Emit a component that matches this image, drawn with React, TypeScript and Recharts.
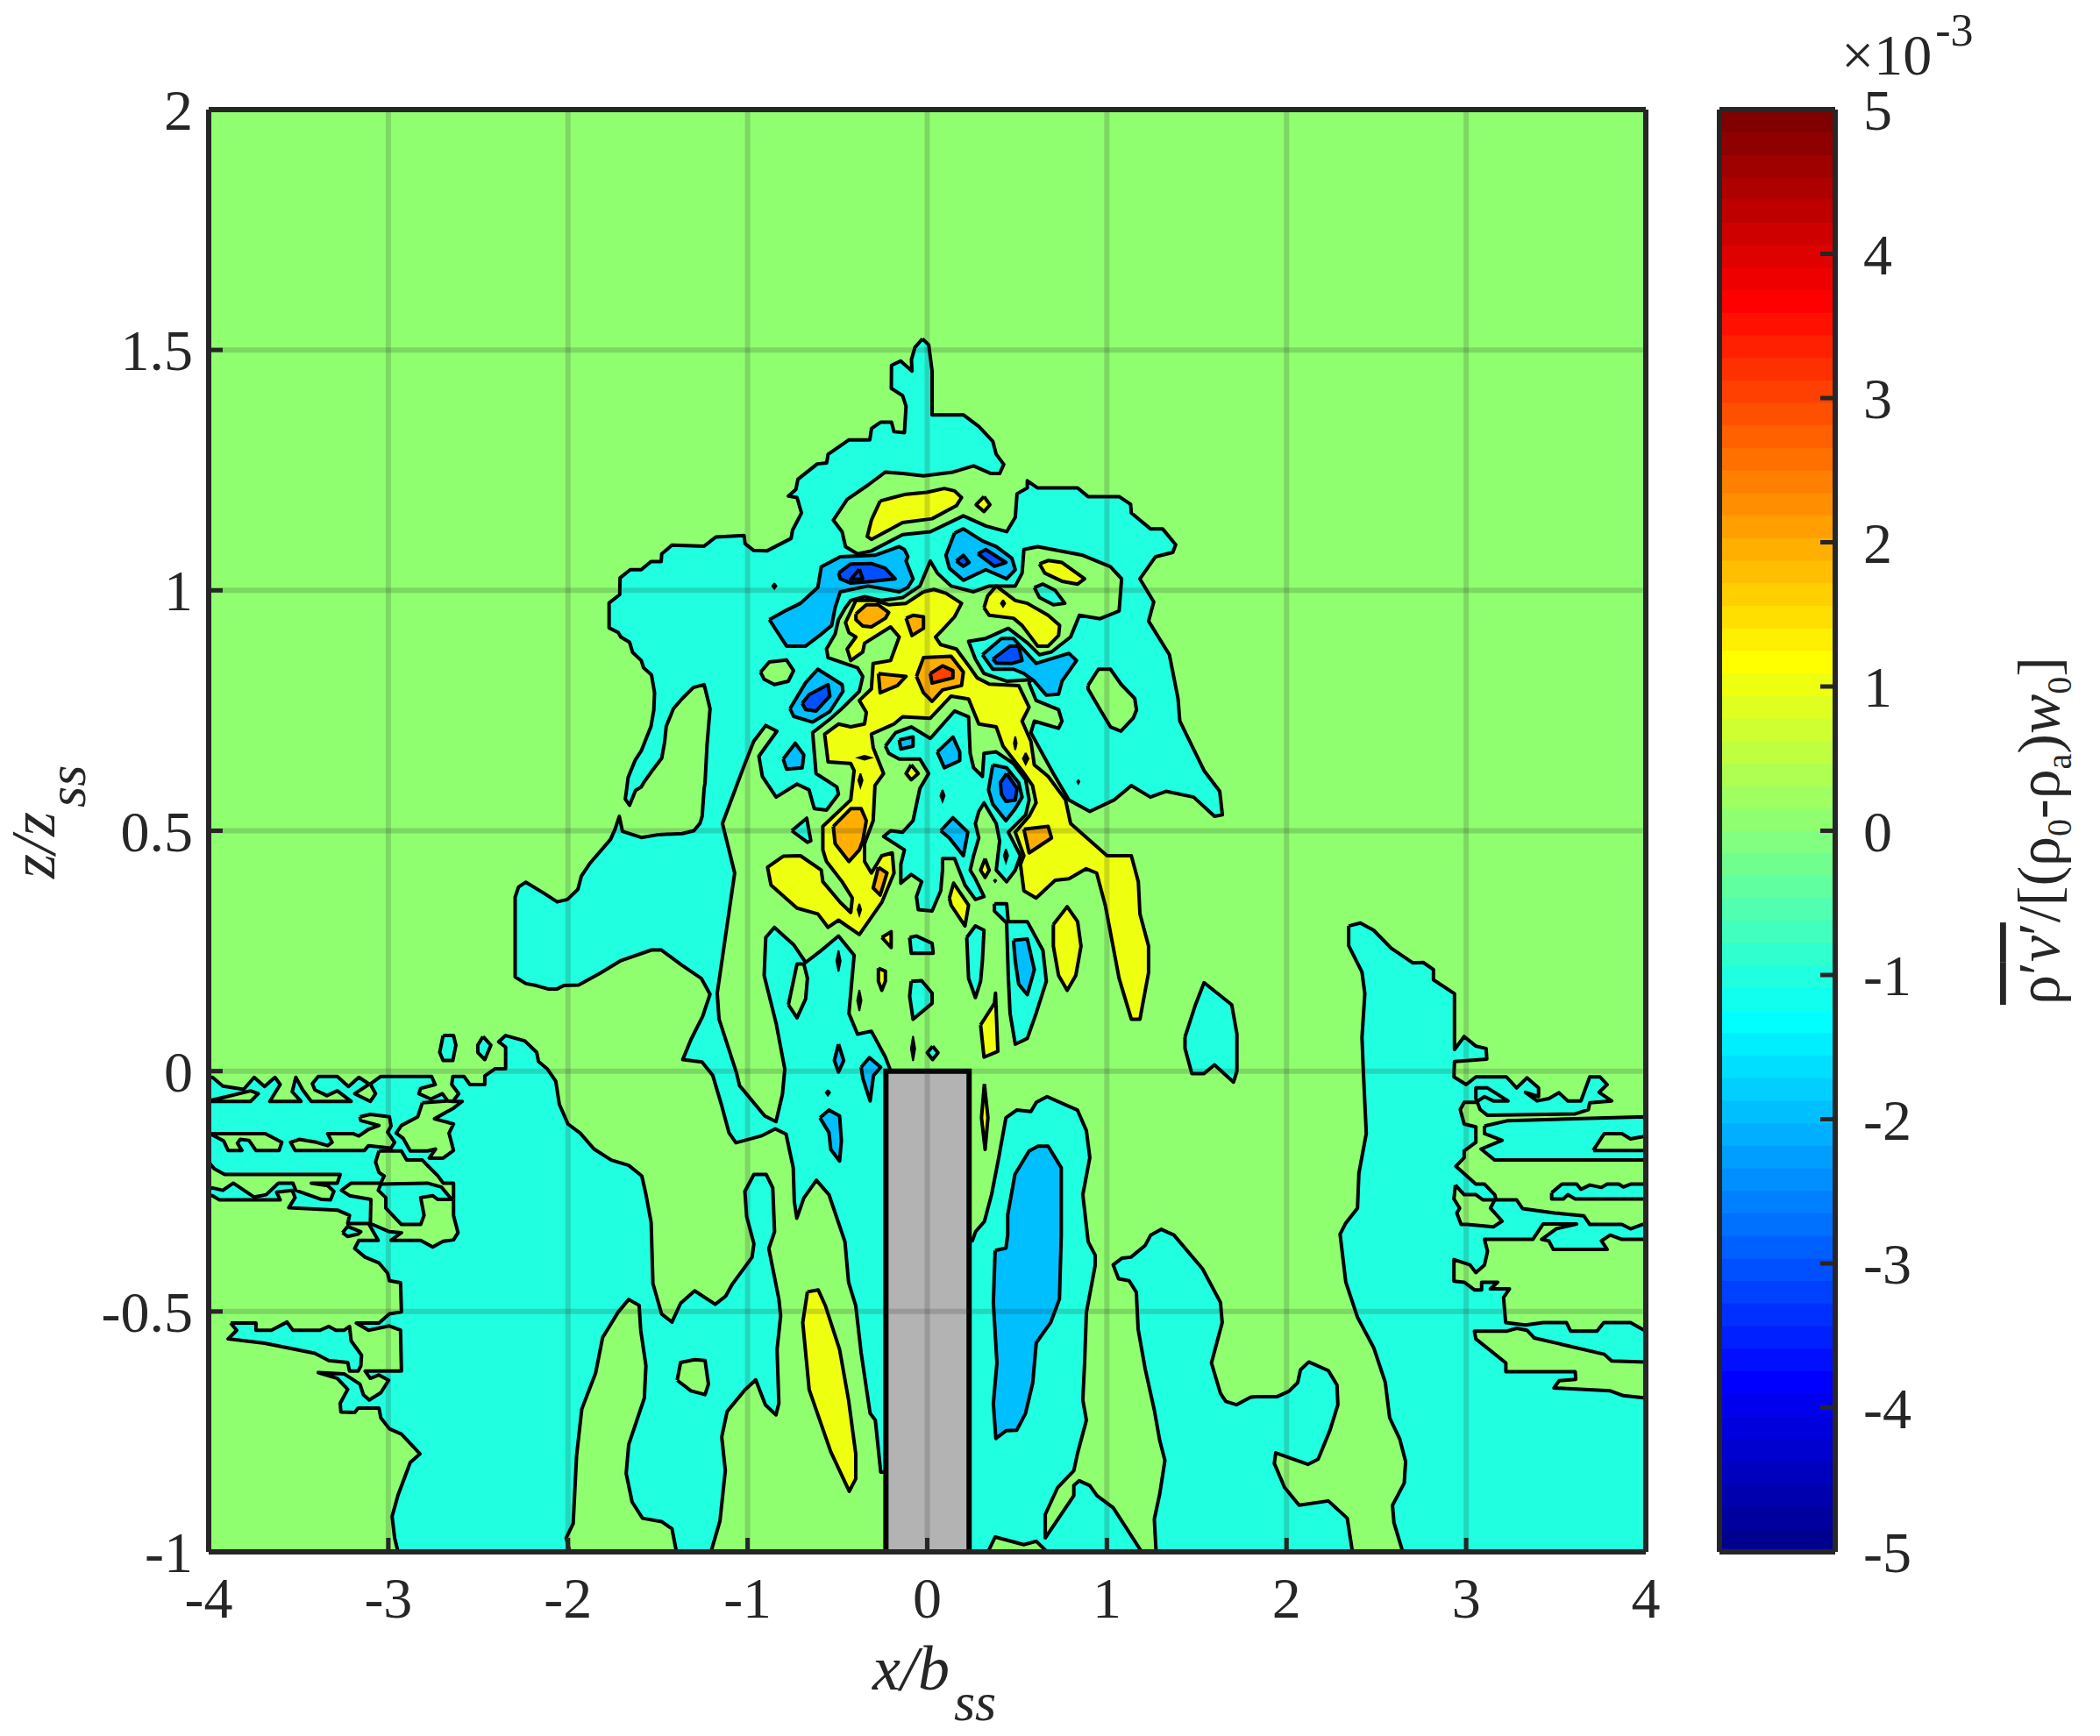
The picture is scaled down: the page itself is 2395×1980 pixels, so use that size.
import React from 'react';
import { Bar, BarChart, ReferenceLine, Scatter, ScatterChart, XAxis, YAxis } from 'recharts';

type Pt = [number, number];

const xTicks = [-4, -3, -2, -1, 0, 1, 2, 3, 4];
const yTicks = [-1, -0.5, 0, 0.5, 1, 1.5, 2];
const barTicks = [-5, -4, -3, -2, -1, 0, 1, 2, 3, 4, 5];

// jet(64), bottom to top of the colorbar
const jetColors = [
  '#00008F', '#00009F', '#0000AF', '#0000BF', '#0000CF', '#0000DF', '#0000EF', '#0000FF',
  '#0010FF', '#0020FF', '#0030FF', '#0040FF', '#0050FF', '#0060FF', '#0070FF', '#0080FF',
  '#008FFF', '#009FFF', '#00AFFF', '#00BFFF', '#00CFFF', '#00DFFF', '#00EFFF', '#00FFFF',
  '#10FFEF', '#20FFDF', '#30FFCF', '#40FFBF', '#50FFAF', '#60FF9F', '#70FF8F', '#80FF80',
  '#8FFF70', '#9FFF60', '#AFFF50', '#BFFF40', '#CFFF30', '#DFFF20', '#EFFF10', '#FFFF00',
  '#FFEF00', '#FFDF00', '#FFCF00', '#FFBF00', '#FFAF00', '#FF9F00', '#FF8F00', '#FF8000',
  '#FF7000', '#FF6000', '#FF5000', '#FF4000', '#FF3000', '#FF2000', '#FF1000', '#FF0000',
  '#EF0000', '#DF0000', '#CF0000', '#BF0000', '#AF0000', '#9F0000', '#8F0000', '#800000',
];

const GREEN = '#8FFF70';
const CYAN = '#20FFDF';
const BLUE1 = '#00BFFF';
const BLUE2 = '#0050FF';
const YELLOW = '#EFFF10';
const ORANGE = '#FFAF00';
const RED = '#FF4000';

// contour bands, x/b_ss and z/z_ss
const lowerLeft: Pt[] = [[-2.946,-1],[-2.965,-0.971],[-2.979,-0.926],[-2.946,-0.882],[-2.878,-0.814],[-2.824,-0.796],[-2.927,-0.755],[-2.994,-0.744],[-3.042,-0.721],[-3.052,-0.701],[-3.168,-0.701],[-3.187,-0.71],[-3.264,-0.709],[-3.268,-0.691],[-3.226,-0.662],[-3.284,-0.639],[-3.39,-0.627],[-3.245,-0.63],[-3.158,-0.651],[-3.139,-0.673],[-3.106,-0.684],[-3.042,-0.669],[-2.998,-0.643],[-3.052,-0.632],[-3.1,-0.639],[-3.129,-0.624],[-2.927,-0.624],[-2.932,-0.539],[-2.994,-0.53],[-3.11,-0.539],[-3.178,-0.524],[-3.052,-0.524],[-2.994,-0.505],[-2.927,-0.501],[-2.932,-0.44],[-2.994,-0.436],[-3.004,-0.42],[-3.052,-0.399],[-3.129,-0.387],[-3.187,-0.369],[-3.164,-0.352],[-3.056,-0.352],[-3.11,-0.317],[-3.226,-0.317],[-3.216,-0.3],[-3.284,-0.289],[-3.554,-0.284],[-3.519,-0.263],[-3.535,-0.248],[-3.622,-0.252],[-3.602,-0.268],[-3.94,-0.268],[-3.979,-0.259],[-4,-0.259],[-4,-0.013],[-3.979,-0.013],[-3.921,-0.031],[-3.805,-0.038],[-3.747,-0.013],[-3.689,-0.032],[-3.631,-0.013],[-3.602,-0.028],[-3.66,-0.063],[-3.486,-0.063],[-3.535,-0.043],[-3.515,-0.013],[-3.477,-0.039],[-3.429,-0.063],[-3.207,-0.063],[-3.284,-0.041],[-3.342,-0.051],[-3.409,-0.039],[-3.423,-0.026],[-3.39,-0.011],[-3.284,-0.011],[-3.222,-0.032],[-3.164,-0.013],[-3.106,-0.027],[-3.187,-0.047],[-3.1,-0.063],[-3.071,-0.047],[-3.1,-0.027],[-3.042,-0.011],[-2.759,-0.011],[-2.739,-0.028],[-2.82,-0.036],[-2.83,-0.047],[-2.763,-0.058],[-2.699,-0.047],[-2.67,-0.062],[-2.641,-0.063],[-2.608,-0.047],[-2.647,-0.028],[-2.641,-0.011],[-2.579,-0.011],[-2.546,-0.028],[-2.463,-0.028],[-2.463,-0.01],[-2.405,0.005],[-2.347,0.005],[-2.347,0.05],[-2.386,0.061],[-2.347,0.074],[-2.241,0.063],[-2.174,0.039],[-2.164,0.02],[-2.116,0.005],[-2.068,-0.021],[-2.048,-0.069],[-2,-0.11],[-1.932,-0.129],[-1.855,-0.162],[-1.759,-0.185],[-1.662,-0.196],[-1.589,-0.218],[-1.566,-0.256],[-1.537,-0.315],[-1.527,-0.442],[-1.479,-0.505],[-1.421,-0.522],[-1.373,-0.483],[-1.295,-0.457],[-1.18,-0.485],[-1.122,-0.468],[-1.085,-0.443],[-0.975,-0.387],[-0.965,-0.359],[-1.005,-0.303],[-1.015,-0.25],[-0.965,-0.215],[-0.896,-0.215],[-0.86,-0.243],[-0.85,-0.334],[-0.882,-0.369],[-0.826,-0.474],[-0.816,-0.509],[-0.836,-0.579],[-0.826,-0.691],[-0.842,-0.715],[-0.901,-0.694],[-0.955,-0.642],[-1.015,-0.663],[-1.114,-0.708],[-1.144,-0.761],[-1.124,-0.831],[-1.154,-0.936],[-1.204,-1]];

const plume: Pt[] = [[-0.027,1.523],[0.008,1.511],[0.027,1.456],[0.027,1.365],[0.201,1.365],[0.287,1.341],[0.365,1.31],[0.384,1.283],[0.426,1.262],[0.403,1.243],[0.355,1.243],[0.258,1.259],[0.143,1.246],[-0.021,1.238],[-0.137,1.243],[-0.233,1.246],[-0.33,1.219],[-0.446,1.189],[-0.523,1.146],[-0.474,1.122],[-0.455,1.091],[-0.388,1.076],[-0.311,1.082],[-0.137,1.116],[0.017,1.122],[0.201,1.155],[0.326,1.134],[0.442,1.122],[0.49,1.152],[0.5,1.201],[0.557,1.213],[0.557,1.228],[0.615,1.213],[0.837,1.213],[0.895,1.195],[1.068,1.195],[1.132,1.179],[1.136,1.161],[1.242,1.128],[1.31,1.128],[1.383,1.095],[1.367,1.079],[1.271,1.07],[1.184,1.024],[1.261,0.976],[1.232,0.936],[1.348,0.866],[1.396,0.775],[1.406,0.728],[1.541,0.625],[1.628,0.582],[1.643,0.533],[1.599,0.53],[1.483,0.57],[1.329,0.582],[1.242,0.57],[1.136,0.594],[1.04,0.564],[0.905,0.54],[0.789,0.564],[0.702,0.619],[0.577,0.704],[0.596,0.728],[0.731,0.713],[0.75,0.728],[0.731,0.752],[0.606,0.771],[0.567,0.807],[0.577,0.814],[0.442,0.811],[0.316,0.827],[0.268,0.857],[0.23,0.894],[0.326,0.9],[0.451,0.921],[0.557,0.891],[0.625,0.866],[0.692,0.872],[0.798,0.903],[0.847,0.948],[0.962,0.941],[1.068,0.957],[1.082,1.024],[1.02,1.049],[0.866,1.073],[0.615,1.091],[0.538,1.085],[0.528,1.036],[0.49,1.009],[0.345,1.009],[0.258,0.997],[0.133,1.009],[0.056,1.036],[0.017,1.061],[-0.041,1.009],[-0.137,0.985],[-0.253,0.979],[-0.349,0.987],[-0.426,0.979],[-0.455,0.964],[-0.494,0.939],[-0.513,0.909],[-0.561,0.878],[-0.552,0.86],[-0.388,0.839],[-0.359,0.821],[-0.378,0.79],[-0.484,0.751],[-0.542,0.732],[-0.638,0.704],[-0.619,0.619],[-0.503,0.591],[-0.494,0.576],[-0.561,0.543],[-0.629,0.546],[-0.658,0.585],[-0.725,0.597],[-0.841,0.57],[-0.918,0.613],[-0.937,0.655],[-0.837,0.707],[-0.899,0.719],[-0.966,0.686],[-1.024,0.631],[-1.14,0.515],[-1.072,0.412],[-1.169,0.162],[-1.159,0.108],[-1.063,-0.002],[-1.045,-0.03],[-0.905,-0.093],[-0.842,-0.105],[-0.806,-0.048],[-0.793,0.004],[-0.841,0.099],[-0.908,0.199],[-0.899,0.278],[-0.851,0.299],[-0.744,0.263],[-0.677,0.226],[-0.6,0.248],[-0.494,0.281],[-0.407,0.241],[-0.436,0.12],[-0.388,0.077],[-0.311,0.083],[-0.233,0.029],[-0.204,0.001],[-0.2,-0.02],[-0.2,-0.834],[-0.259,-0.834],[-0.289,-0.726],[-0.318,-0.712],[-0.368,-0.586],[-0.398,-0.488],[-0.438,-0.439],[-0.458,-0.355],[-0.547,-0.257],[-0.617,-0.227],[-0.687,-0.264],[-0.726,-0.306],[-0.74,-0.271],[-0.746,-0.201],[-0.786,-0.131],[-0.846,-0.12],[-0.925,-0.135],[-1.065,-0.149],[-1.104,-0.128],[-1.144,-0.072],[-1.194,-0.009],[-1.254,0.019],[-1.361,0.024],[-1.315,0.066],[-1.25,0.114],[-1.209,0.16],[-1.258,0.193],[-1.364,0.22],[-1.481,0.252],[-1.535,0.252],[-1.705,0.23],[-1.819,0.204],[-1.941,0.179],[-2.023,0.178],[-2.06,0.171],[-2.112,0.171],[-2.177,0.178],[-2.234,0.182],[-2.294,0.196],[-2.294,0.362],[-2.275,0.383],[-2.234,0.393],[-2.129,0.369],[-2.06,0.352],[-2.003,0.357],[-1.945,0.378],[-1.925,0.406],[-1.876,0.433],[-1.763,0.482],[-1.738,0.503],[-1.714,0.53],[-1.697,0.499],[-1.592,0.486],[-1.494,0.492],[-1.364,0.494],[-1.299,0.5],[-1.266,0.515],[-1.253,0.53],[-1.242,0.588],[-1.237,0.599],[-1.226,0.678],[-1.209,0.754],[-1.242,0.804],[-1.302,0.798],[-1.364,0.775],[-1.413,0.754],[-1.453,0.717],[-1.462,0.684],[-1.478,0.651],[-1.535,0.623],[-1.575,0.602],[-1.592,0.591],[-1.624,0.584],[-1.657,0.553],[-1.681,0.566],[-1.673,0.587],[-1.665,0.611],[-1.624,0.648],[-1.592,0.666],[-1.538,0.717],[-1.522,0.751],[-1.518,0.787],[-1.535,0.824],[-1.579,0.839],[-1.592,0.854],[-1.64,0.871],[-1.657,0.892],[-1.706,0.903],[-1.719,0.912],[-1.771,0.922],[-1.771,0.974],[-1.712,0.991],[-1.71,1.026],[-1.653,1.043],[-1.592,1.043],[-1.538,1.06],[-1.481,1.06],[-1.478,1.076],[-1.421,1.094],[-1.242,1.092],[-1.177,1.111],[-1.02,1.114],[-1.014,1.097],[-0.966,1.083],[-0.893,1.082],[-0.758,1.108],[-0.75,1.125],[-0.7,1.161],[-0.725,1.193],[-0.773,1.196],[-0.731,1.21],[-0.72,1.231],[-0.612,1.263],[-0.56,1.265],[-0.552,1.283],[-0.436,1.313],[-0.32,1.313],[-0.31,1.337],[-0.258,1.35],[-0.199,1.35],[-0.185,1.33],[-0.127,1.328],[-0.118,1.383],[-0.137,1.405],[-0.2,1.42],[-0.199,1.468],[-0.148,1.477],[-0.085,1.456],[-0.088,1.48],[-0.069,1.505]];

const rightFan: Pt[] = [[2.346,0.302],[2.411,0.308],[2.485,0.293],[2.582,0.256],[2.704,0.225],[2.761,0.226],[2.818,0.211],[2.818,0.19],[2.935,0.161],[2.935,0.045],[2.989,0.072],[3.054,0.052],[3.111,0.047],[3.115,0.025],[2.935,0.02],[2.932,-0.012],[3,-0.028],[3.054,-0.012],[3.224,-0.012],[3.281,-0.035],[3.338,-0.014],[3.403,-0.035],[3.403,-0.053],[3.33,-0.044],[3.395,-0.062],[3.46,-0.057],[3.517,-0.045],[3.566,-0.062],[3.639,-0.062],[3.688,-0.012],[3.745,-0.012],[3.785,-0.028],[3.74,-0.044],[3.81,-0.062],[3.688,-0.066],[3.68,-0.08],[3.607,-0.089],[3.119,-0.092],[3.078,-0.08],[3.054,-0.057],[3.054,-0.035],[3.119,-0.035],[3.233,-0.062],[3.151,-0.062],[3.102,-0.053],[3.054,-0.065],[2.989,-0.065],[2.967,-0.08],[2.989,-0.11],[3.054,-0.116],[3.054,-0.148],[2.989,-0.166],[2.989,-0.18],[2.943,-0.198],[3.054,-0.235],[3.102,-0.235],[3.159,-0.257],[3.167,-0.268],[3.281,-0.268],[3.314,-0.286],[3.493,-0.295],[3.655,-0.301],[3.688,-0.319],[3.867,-0.319],[3.915,-0.328],[3.98,-0.319],[4,-0.319],[4,-0.35],[3.867,-0.35],[3.802,-0.341],[3.753,-0.353],[3.785,-0.371],[3.485,-0.371],[3.46,-0.353],[3.42,-0.35],[3.501,-0.328],[3.615,-0.318],[3.428,-0.318],[3.371,-0.35],[3.102,-0.35],[3.119,-0.375],[3.102,-0.403],[3.054,-0.419],[3.021,-0.403],[2.932,-0.392],[2.932,-0.437],[2.989,-0.439],[3.046,-0.455],[3.086,-0.455],[3.086,-0.439],[3.176,-0.439],[3.135,-0.453],[3.241,-0.453],[3.208,-0.471],[3.22,-0.523],[3.33,-0.528],[3.428,-0.523],[3.558,-0.523],[3.582,-0.541],[3.728,-0.541],[3.766,-0.523],[3.915,-0.523],[4,-0.541],[4,-0.605],[3.81,-0.603],[3.769,-0.589],[3.379,-0.555],[3.338,-0.539],[3.281,-0.535],[3.224,-0.541],[3.046,-0.541],[3.054,-0.557],[3.221,-0.607],[3.221,-0.625],[3.607,-0.625],[3.61,-0.641],[3.517,-0.644],[3.489,-0.659],[3.802,-0.665],[3.875,-0.675],[4,-0.68],[4,-1],[2.647,-1],[2.598,-0.939],[2.59,-0.903],[2.655,-0.857],[2.663,-0.812],[2.631,-0.766],[2.574,-0.721],[2.55,-0.648],[2.485,-0.575],[2.395,-0.512],[2.33,-0.439],[2.298,-0.339],[2.33,-0.316],[2.395,-0.285],[2.403,-0.212],[2.444,-0.13],[2.428,-0.003],[2.42,0.07],[2.436,0.161],[2.42,0.206],[2.346,0.261]];

const besideBar: Pt[] = [[0.249,-0.355],[0.269,-0.334],[0.318,-0.313],[0.358,-0.257],[0.398,-0.18],[0.438,-0.097],[0.498,-0.081],[0.577,-0.084],[0.607,-0.065],[0.667,-0.053],[0.836,-0.081],[0.886,-0.124],[0.905,-0.18],[0.866,-0.257],[0.896,-0.355],[0.935,-0.383],[0.935,-0.404],[0.886,-0.502],[0.876,-0.607],[0.866,-0.684],[0.886,-0.726],[0.836,-0.796],[0.816,-0.831],[0.726,-0.866],[0.657,-0.922],[0.657,-0.971],[0.816,-0.883],[0.816,-0.862],[0.846,-0.852],[0.905,-0.862],[0.945,-0.883],[1.035,-0.908],[1.194,-1],[0.2,-1],[0.2,-0.355]];
const bottomMiddle: Pt[] = [[1.274,-1],[1.264,-0.932],[1.294,-0.88],[1.323,-0.81],[1.294,-0.768],[1.264,-0.705],[1.214,-0.621],[1.174,-0.537],[1.164,-0.46],[1.124,-0.436],[1.065,-0.432],[1.035,-0.403],[1.085,-0.389],[1.134,-0.387],[1.214,-0.362],[1.244,-0.341],[1.303,-0.329],[1.373,-0.341],[1.532,-0.411],[1.632,-0.481],[1.642,-0.523],[1.582,-0.607],[1.632,-0.67],[1.662,-0.687],[1.721,-0.694],[1.801,-0.678],[1.834,-0.677],[1.948,-0.677],[2.013,-0.666],[2.062,-0.648],[2.078,-0.621],[2.124,-0.605],[2.233,-0.623],[2.281,-0.653],[2.286,-0.694],[2.241,-0.748],[2.176,-0.807],[2.119,-0.818],[1.94,-0.794],[1.932,-0.816],[1.989,-0.866],[2.07,-0.903],[2.233,-0.894],[2.338,-0.93],[2.367,-1]];
const rightBlob: Pt[] = [[1.435,0.071],[1.493,0.138],[1.541,0.184],[1.695,0.138],[1.724,0.077],[1.724,0],[1.705,-0.023],[1.599,0.013],[1.541,-0.005],[1.473,-0.005],[1.435,0.047]];
const leftStreak: Pt[] = [[-3.878,-0.524],[-3.737,-0.524],[-3.737,-0.539],[-3.651,-0.539],[-3.564,-0.522],[-3.531,-0.539],[-3.38,-0.539],[-3.332,-0.531],[-3.293,-0.539],[-3.245,-0.539],[-3.216,-0.531],[-3.207,-0.561],[-3.149,-0.591],[-3.153,-0.613],[-3.168,-0.624],[-3.216,-0.624],[-3.226,-0.606],[-3.332,-0.602],[-3.409,-0.587],[-3.689,-0.566],[-3.892,-0.557],[-3.844,-0.539]];
const leftIsleA: Pt[] = [[-2.695,0.074],[-2.637,0.074],[-2.624,0.054],[-2.641,0.022],[-2.695,0.022],[-2.714,0.039]];
const leftIsleB: Pt[] = [[-2.473,0.072],[-2.429,0.054],[-2.463,0.024],[-2.502,0.039],[-2.502,0.054]];
const leftIsleC: Pt[] = [[-3.255,-0.336],[-3.226,-0.323],[-3.153,-0.334],[-3.168,-0.339],[-3.226,-0.344]];
const rightStreakA: Pt[] = [[3.102,-0.114],[3.233,-0.103],[4,-0.095],[4,-0.185],[3.159,-0.185],[3.083,-0.162],[3.2,-0.144],[3.102,-0.13]];
const rightStreakB: Pt[] = [[3.476,-0.253],[3.533,-0.235],[3.615,-0.235],[3.639,-0.246],[3.688,-0.237],[3.753,-0.242],[3.785,-0.235],[3.85,-0.235],[3.875,-0.241],[3.915,-0.235],[4,-0.235],[4,-0.266],[3.607,-0.266],[3.566,-0.257],[3.541,-0.266],[3.476,-0.266]];

const holeWedge: Pt[] = [[-4,-0.062],[-3.766,-0.041],[-3.724,-0.047],[-3.766,-0.063],[-4,-0.063]];
const holeA: Pt[] = [[-2.811,-0.066],[-2.836,-0.095],[-2.927,-0.113],[-2.956,-0.129],[-2.917,-0.14],[-2.878,-0.166],[-2.782,-0.166],[-2.737,-0.162],[-2.772,-0.181],[-2.695,-0.181],[-2.637,-0.165],[-2.662,-0.129],[-2.637,-0.11],[-2.743,-0.099],[-2.637,-0.077],[-2.589,-0.063],[-2.641,-0.063],[-2.67,-0.062]];
const holeB: Pt[] = [[-4,-0.13],[-3.685,-0.13],[-3.593,-0.148],[-3.608,-0.165],[-3.737,-0.165],[-3.776,-0.144],[-3.824,-0.142],[-3.84,-0.15],[-3.815,-0.165],[-3.892,-0.165],[-3.917,-0.145],[-3.979,-0.133]];
const holeC: Pt[] = [[-3.158,-0.095],[-3.1,-0.09],[-2.994,-0.095],[-2.985,-0.114],[-3.004,-0.127],[-2.965,-0.148],[-2.985,-0.16],[-3.11,-0.155],[-3.133,-0.165],[-3.519,-0.165],[-3.544,-0.148],[-3.496,-0.142],[-3.4,-0.148],[-3.338,-0.155],[-3.313,-0.148],[-3.338,-0.13],[-3.197,-0.13],[-3.164,-0.135],[-3.11,-0.121],[-3.052,-0.113],[-3.153,-0.103]];
const holeD: Pt[] = [[-3.052,-0.166],[-2.927,-0.166],[-2.898,-0.185],[-2.811,-0.185],[-2.772,-0.2],[-2.724,-0.218],[-2.695,-0.233],[-2.637,-0.233],[-2.637,-0.3],[-2.612,-0.336],[-2.637,-0.351],[-2.695,-0.354],[-2.753,-0.366],[-2.82,-0.352],[-2.985,-0.352],[-2.927,-0.336],[-2.994,-0.334],[-3.1,-0.317],[-3.097,-0.267],[-3.216,-0.259],[-3.261,-0.248],[-3.207,-0.233],[-3.042,-0.233],[-3.023,-0.218],[-3.052,-0.211],[-3.071,-0.189]];
const holeE: Pt[] = [[-4,-0.189],[-3.969,-0.203],[-3.911,-0.215],[-3.268,-0.215],[-3.284,-0.233],[-3.429,-0.233],[-3.338,-0.238],[-3.303,-0.25],[-3.322,-0.268],[-3.371,-0.267],[-3.515,-0.248],[-3.531,-0.233],[-3.612,-0.233],[-3.68,-0.257],[-3.747,-0.262],[-3.863,-0.233],[-3.921,-0.248],[-3.979,-0.243],[-4,-0.243]];
const holeLobe: Pt[] = [[-1.99,-1],[-2.01,-0.971],[-1.971,-0.941],[-1.952,-0.8],[-1.923,-0.703],[-1.846,-0.628],[-1.807,-0.554],[-1.72,-0.501],[-1.662,-0.475],[-1.604,-0.487],[-1.595,-0.539],[-1.566,-0.613],[-1.575,-0.68],[-1.662,-0.777],[-1.676,-0.837],[-1.643,-0.896],[-1.585,-0.93],[-1.479,-0.937],[-1.421,-0.952],[-1.396,-1]];
const holeIsland: Pt[] = [[-1.392,-0.643],[-1.373,-0.606],[-1.295,-0.6],[-1.237,-0.602],[-1.218,-0.651],[-1.237,-0.673],[-1.315,-0.665]];
const holeFan: Pt[] = [[2.94,-0.237],[2.989,-0.257],[3.054,-0.257],[3.094,-0.268],[3.159,-0.268],[3.135,-0.285],[3.2,-0.312],[3.151,-0.324],[3.005,-0.319],[2.972,-0.319],[2.948,-0.295],[2.964,-0.285],[2.932,-0.266]];
const holeStreak: Pt[] = [[3.707,-0.165],[3.769,-0.13],[3.867,-0.13],[3.915,-0.141],[4,-0.135],[4,-0.165]];
const holeBottom: Pt[] = [[0.338,-1],[0.378,-0.969],[0.537,-0.985],[0.607,-0.978],[0.667,-1]];
const holeFinger: Pt[] = [[-0.773,0.138],[-0.725,0.111],[-0.677,0.15],[-0.667,0.193],[-0.687,0.223],[-0.725,0.223]];
const holeRing: Pt[] = [[-0.928,0.83],[-0.879,0.851],[-0.783,0.855],[-0.744,0.833],[-0.773,0.811],[-0.851,0.804],[-0.908,0.815]];
const holeRight: Pt[] = [[0.895,0.802],[0.953,0.836],[1.02,0.836],[1.078,0.805],[1.155,0.775],[1.165,0.751],[1.146,0.734],[1.078,0.707],[1.02,0.716],[0.962,0.752],[0.895,0.795]];
const pocket: Pt[] = [[-3.042,-0.235],[-2.782,-0.233],[-2.705,-0.241],[-2.647,-0.267],[-2.724,-0.267],[-2.753,-0.259],[-2.82,-0.263],[-2.801,-0.3],[-2.82,-0.319],[-2.927,-0.319],[-3.014,-0.285],[-3.014,-0.263],[-3.056,-0.248]];

const arch: Pt[] = [[-0.021,0.997],[0.037,1.002],[0.104,0.994],[0.191,0.973],[0.152,0.945],[0.085,0.918],[0.046,0.903],[0.075,0.887],[0.162,0.878],[0.239,0.839],[0.278,0.818],[0.345,0.805],[0.509,0.802],[0.567,0.757],[0.528,0.728],[0.577,0.686],[0.596,0.637],[0.673,0.613],[0.77,0.564],[0.798,0.515],[1.001,0.448],[1.136,0.448],[1.175,0.394],[1.184,0.327],[1.232,0.26],[1.232,0.205],[1.184,0.108],[1.136,0.108],[1.068,0.193],[0.991,0.345],[0.943,0.412],[0.885,0.421],[0.789,0.4],[0.712,0.397],[0.606,0.36],[0.538,0.375],[0.519,0.43],[0.538,0.448],[0.49,0.497],[0.567,0.53],[0.606,0.558],[0.586,0.594],[0.528,0.625],[0.422,0.676],[0.384,0.716],[0.287,0.722],[0.23,0.774],[0.133,0.78],[0.017,0.734],[-0.137,0.737],[-0.185,0.722],[-0.311,0.701],[-0.301,0.673],[-0.243,0.619],[-0.291,0.594],[-0.301,0.521],[-0.349,0.473],[-0.349,0.436],[-0.311,0.412],[-0.253,0.448],[-0.195,0.454],[-0.185,0.412],[-0.253,0.351],[-0.378,0.284],[-0.494,0.314],[-0.552,0.299],[-0.609,0.327],[-0.725,0.339],[-0.87,0.387],[-0.889,0.424],[-0.802,0.447],[-0.706,0.448],[-0.59,0.418],[-0.581,0.394],[-0.484,0.351],[-0.426,0.33],[-0.417,0.36],[-0.474,0.394],[-0.561,0.436],[-0.581,0.46],[-0.581,0.509],[-0.426,0.564],[-0.407,0.625],[-0.426,0.64],[-0.552,0.643],[-0.571,0.701],[-0.494,0.722],[-0.426,0.716],[-0.349,0.722],[-0.339,0.746],[-0.378,0.771],[-0.311,0.795],[-0.301,0.848],[-0.204,0.854],[-0.156,0.903],[-0.204,0.924],[-0.349,0.89],[-0.359,0.872],[-0.426,0.854],[-0.446,0.878],[-0.397,0.903],[-0.436,0.912],[-0.455,0.933],[-0.397,0.979],[-0.291,0.979],[-0.214,0.97],[-0.118,0.973]];
const innerCyan: Pt[] = [[-0.233,0.676],[-0.176,0.704],[-0.089,0.716],[0.017,0.692],[0.152,0.749],[0.23,0.737],[0.239,0.661],[0.258,0.631],[0.307,0.613],[0.316,0.661],[0.384,0.664],[0.48,0.64],[0.548,0.606],[0.567,0.564],[0.548,0.533],[0.451,0.497],[0.519,0.448],[0.49,0.418],[0.442,0.394],[0.384,0.418],[0.403,0.479],[0.384,0.515],[0.316,0.558],[0.287,0.54],[0.268,0.515],[0.287,0.485],[0.258,0.448],[0.239,0.418],[0.268,0.4],[0.316,0.363],[0.268,0.357],[0.21,0.387],[0.152,0.442],[0.085,0.442],[0.085,0.418],[0.075,0.375],[0.027,0.333],[-0.05,0.336],[-0.06,0.363],[-0.031,0.394],[-0.089,0.409],[-0.147,0.391],[-0.147,0.43],[-0.127,0.46],[-0.243,0.488],[-0.204,0.5],[-0.137,0.497],[-0.079,0.521],[-0.041,0.588],[0.008,0.619],[-0.041,0.649],[-0.156,0.649],[-0.214,0.661]];

const yellowCap: Pt[] = [[-0.262,1.186],[-0.118,1.2],[-0.002,1.204],[0.095,1.212],[0.152,1.207],[0.191,1.193],[0.162,1.176],[0.027,1.149],[-0.137,1.141],[-0.311,1.106],[-0.334,1.112],[-0.311,1.146]];
const yellowSpot: Pt[] = [[0.316,1.195],[0.349,1.178],[0.316,1.164],[0.272,1.178]];
const yellowTop: Pt[] = [[0.625,1.055],[0.673,1.062],[0.75,1.058],[0.876,1.024],[0.837,1.013],[0.75,1.019],[0.654,1.036]];
const yellowMid: Pt[] = [[0.316,0.964],[0.336,0.988],[0.384,1.009],[0.49,0.979],[0.557,0.973],[0.673,0.948],[0.737,0.927],[0.731,0.906],[0.673,0.884],[0.615,0.884],[0.528,0.927],[0.48,0.942],[0.345,0.948]];
const yellowLowA: Pt[] = [[-0.253,0.278],[-0.201,0.29],[-0.201,0.257]];
const yellowLowB: Pt[] = [[-0.272,0.214],[-0.233,0.208],[-0.233,0.187],[-0.253,0.168],[-0.272,0.187]];
const yellowLowC: Pt[] = [[0.702,0.305],[0.779,0.342],[0.837,0.311],[0.856,0.26],[0.827,0.199],[0.779,0.168],[0.731,0.199],[0.702,0.26]];
const yellowLowD: Pt[] = [[0.123,0.36],[0.147,0.391],[0.23,0.345],[0.21,0.302],[0.133,0.345]];
const yellowLowE: Pt[] = [[0.297,0.096],[0.374,0.141],[0.38,0.162],[0.393,0.041],[0.316,0.029]];
const yellowLowF: Pt[] = [[0.322,0.442],[0.345,0.418],[0.322,0.403],[0.297,0.418]];
const yellowTiny: Pt[] = [[-0.089,0.637],[-0.05,0.619],[-0.089,0.606],[-0.118,0.619]];
const yellowThin: Pt[] = [[0.318,-0.027],[0.338,-0.097],[0.322,-0.163],[0.302,-0.097]];
const yellowLeg: Pt[] = [[-0.667,-0.459],[-0.607,-0.455],[-0.567,-0.488],[-0.488,-0.579],[-0.438,-0.684],[-0.398,-0.796],[-0.398,-0.848],[-0.434,-0.874],[-0.537,-0.792],[-0.657,-0.663],[-0.693,-0.523]];

const cyanA: Pt[] = [[0.596,1.006],[0.644,1.013],[0.712,1],[0.766,0.973],[0.702,0.97],[0.625,0.985]];
const cyanB: Pt[] = [[-0.754,0.5],[-0.671,0.526],[-0.648,0.479],[-0.667,0.476]];
const cyanC: Pt[] = [[-0.098,0.278],[-0.06,0.281],[0.027,0.266],[0.033,0.245],[-0.089,0.245]];
const cyanD: Pt[] = [[-0.089,0.187],[-0.031,0.188],[0.027,0.162],[0.027,0.141],[-0.079,0.108],[-0.098,0.156]];
const cyanE: Pt[] = [[0.22,0.278],[0.268,0.302],[0.316,0.293],[0.307,0.229],[0.297,0.187],[0.268,0.153],[0.23,0.193]];
const cyanF: Pt[] = [[0.374,0.348],[0.442,0.348],[0.451,0.311],[0.557,0.311],[0.644,0.251],[0.663,0.187],[0.606,0.12],[0.557,0.068],[0.49,0.056],[0.461,0.12],[0.451,0.199],[0.442,0.308],[0.374,0.333]];
const cyanG: Pt[] = [[0.03,0.052],[0.06,0.038],[0.03,0.024],[0,0.038]];

const blueA: Pt[] = [[-0.879,0.939],[-0.793,0.957],[-0.706,0.973],[-0.609,1.006],[-0.59,1.049],[-0.484,1.07],[-0.291,1.073],[-0.156,1.091],[-0.127,1.085],[-0.108,1.07],[-0.118,1.061],[-0.079,1.024],[-0.108,1.006],[-0.156,0.997],[-0.33,1.009],[-0.484,0.997],[-0.513,0.964],[-0.532,0.927],[-0.6,0.906],[-0.677,0.884],[-0.783,0.884]];
const blueB: Pt[] = [[0.152,1.119],[0.201,1.128],[0.307,1.103],[0.384,1.091],[0.471,1.067],[0.49,1.043],[0.442,1.024],[0.326,1.043],[0.201,1.021],[0.123,1.046],[0.104,1.073]];
const blueC: Pt[] = [[0.307,0.866],[0.413,0.9],[0.48,0.9],[0.606,0.848],[0.789,0.869],[0.831,0.854],[0.75,0.811],[0.731,0.784],[0.663,0.782],[0.596,0.811],[0.538,0.827],[0.48,0.836],[0.365,0.836]];
const blueD: Pt[] = [[-0.764,0.754],[-0.677,0.808],[-0.609,0.836],[-0.474,0.804],[-0.469,0.79],[-0.542,0.748],[-0.638,0.726],[-0.744,0.738]];
const blueE: Pt[] = [[-0.156,0.689],[-0.079,0.695],[-0.079,0.676],[-0.147,0.67]];
const blueF: Pt[] = [[0.056,0.664],[0.143,0.695],[0.181,0.664],[0.181,0.646],[0.095,0.631]];
const blueEye: Pt[] = [[0.365,0.637],[0.442,0.631],[0.509,0.6],[0.528,0.57],[0.49,0.546],[0.438,0.521],[0.365,0.555],[0.341,0.585]];
const blueG: Pt[] = [[0.075,0.5],[0.143,0.527],[0.226,0.497],[0.201,0.448],[0.123,0.485]];
const blueH: Pt[] = [[-0.802,0.649],[-0.735,0.682],[-0.687,0.658],[-0.696,0.631],[-0.783,0.628]];
const blueI: Pt[] = [[0.48,0.272],[0.557,0.275],[0.596,0.211],[0.557,0.159],[0.509,0.181],[0.49,0.229]];
const blueJ: Pt[] = [[-0.494,0.056],[-0.465,0.022],[-0.494,-0.002],[-0.517,0.022]];
const blueK: Pt[] = [[-0.368,0.008],[-0.322,0.028],[-0.259,0.008],[-0.299,-0.009],[-0.318,-0.062],[-0.358,-0.016]];
const blueL: Pt[] = [[-0.597,-0.097],[-0.547,-0.081],[-0.488,-0.093],[-0.478,-0.145],[-0.488,-0.187],[-0.537,-0.163],[-0.547,-0.128]];
const blueLeg: Pt[] = [[0.378,-0.373],[0.438,-0.368],[0.448,-0.341],[0.448,-0.299],[0.488,-0.215],[0.567,-0.166],[0.617,-0.156],[0.673,-0.156],[0.746,-0.201],[0.746,-0.341],[0.736,-0.474],[0.687,-0.523],[0.607,-0.565],[0.587,-0.649],[0.547,-0.712],[0.498,-0.747],[0.438,-0.748],[0.382,-0.764],[0.368,-0.691],[0.388,-0.607],[0.368,-0.481]];

const deepA: Pt[] = [[-0.494,1.036],[-0.426,1.055],[-0.311,1.056],[-0.233,1.046],[-0.179,1.024],[-0.33,1.018],[-0.426,1.015],[-0.484,1.024]];
const deepB: Pt[] = [[-0.378,1.044],[-0.359,1.024],[-0.426,1.023]];
const deepC: Pt[] = [[0.282,1.076],[0.326,1.085],[0.438,1.058],[0.374,1.05]];
const deepD: Pt[] = [[0.162,1.061],[0.201,1.073],[0.233,1.058],[0.201,1.05]];
const deepE: Pt[] = [[0.365,0.857],[0.461,0.884],[0.509,0.884],[0.528,0.854],[0.471,0.848],[0.384,0.849]];
const deepF: Pt[] = [[-0.696,0.765],[-0.677,0.752],[-0.619,0.749],[-0.542,0.78],[-0.552,0.804],[-0.658,0.783]];
const deepG: Pt[] = [[0.442,0.619],[0.5,0.588],[0.49,0.564],[0.438,0.561],[0.413,0.576],[0.407,0.6]];

const orangeA: Pt[] = [[-0.397,0.951],[-0.339,0.97],[-0.272,0.97],[-0.214,0.954],[-0.233,0.942],[-0.311,0.924],[-0.359,0.926],[-0.397,0.939]];
const orangeB: Pt[] = [[-0.118,0.942],[-0.079,0.948],[-0.021,0.945],[-0.021,0.921],[-0.085,0.906]];
const orangeC: Pt[] = [[-0.272,0.827],[-0.118,0.821],[-0.166,0.802],[-0.262,0.787]];
const orangeD: Pt[] = [[-0.06,0.821],[-0.021,0.86],[0.133,0.863],[0.201,0.83],[0.191,0.802],[0.085,0.793],[0.027,0.769],[-0.021,0.787]];
const orangeE: Pt[] = [[-0.523,0.509],[-0.426,0.546],[-0.368,0.546],[-0.339,0.521],[-0.359,0.479],[-0.378,0.46],[-0.436,0.436],[-0.513,0.473]];
const orangeF: Pt[] = [[-0.272,0.424],[-0.224,0.412],[-0.262,0.366],[-0.301,0.381]];
const orangeG: Pt[] = [[0.538,0.503],[0.673,0.509],[0.692,0.485],[0.567,0.454]];
const redCore: Pt[] = [[0.017,0.827],[0.085,0.843],[0.143,0.833],[0.143,0.818],[0.027,0.807]];

// tiny closed contours: centre x, centre z, half width, half height
const specks = [
  [-0.851, 1.009, 0.012, 0.006], [0.422, 0.973, 0.012, 0.007], [0.085, 0.573, 0.012, 0.012],
  [0.438, 0.448, 0.012, 0.014], [0.49, 0.682, 0.008, 0.014], [0.548, 0.65, 0.016, 0.012],
  [-0.349, 0.652, 0.036, 0.004], [-0.372, 0.605, 0.012, 0.014], [-0.378, 0.336, 0.01, 0.012],
  [-0.494, 0.229, 0.012, 0.022], [-0.378, 0.147, 0.012, 0.022], [-0.079, 0.047, 0.012, 0.026],
  [0.841, 0.602, 0.006, 0.004], [0.378, 0.396, 0.006, 0.003], [-0.553, -0.045, 0.012, 0.006],
];

const barOutline: Pt[] = [[-0.23, -1], [-0.23, 0], [0.233, 0], [0.233, -1]];
const plotCorners: Pt[] = [[-4, -1], [-4, 2], [4, 2], [4, -1]];

const regions: { pts: Pt[]; fill: string }[] = [
  ...[lowerLeft, plume, rightFan, besideBar, bottomMiddle, rightBlob, leftStreak, leftIsleA, leftIsleB, leftIsleC, rightStreakA, rightStreakB].map((pts) => ({ pts, fill: CYAN })),
  ...[holeWedge, holeA, holeB, holeC, holeD, holeE, holeLobe, holeIsland, holeFan, holeStreak, holeBottom, holeFinger, holeRing, holeRight].map((pts) => ({ pts, fill: GREEN })),
  { pts: pocket, fill: CYAN },
  ...[arch, yellowCap, yellowSpot, yellowTop, yellowMid, yellowLowA, yellowLowB, yellowLowC, yellowLowD, yellowLowE, yellowLowF, yellowThin, yellowLeg].map((pts) => ({ pts, fill: YELLOW })),
  ...[innerCyan, cyanA, cyanB, cyanC, cyanD, cyanE, cyanF, cyanG].map((pts) => ({ pts, fill: CYAN })),
  { pts: yellowTiny, fill: YELLOW },
  ...[blueA, blueB, blueC, blueD, blueE, blueF, blueEye, blueG, blueH, blueI, blueJ, blueK, blueL, blueLeg].map((pts) => ({ pts, fill: BLUE1 })),
  ...[deepA, deepB, deepC, deepD, deepE, deepF, deepG].map((pts) => ({ pts, fill: BLUE2 })),
  ...[orangeA, orangeB, orangeC, orangeD, orangeE, orangeF, orangeG].map((pts) => ({ pts, fill: ORANGE })),
  { pts: redCore, fill: RED },
];

const closed = (pts: Pt[]) => [...pts, pts[0]].map(([x, y]) => ({ x, y }));
const speckRows = (s: number[]) => {
  const [x, y, w, h] = s;
  return closed([[x, y + h], [x + w, y], [x, y - h], [x - w, y]]);
};
const noDot = () => <g />;

const TEXT = '#262626';
const SERIF = "'Liberation Serif', 'Times New Roman', Times, serif";
const serifStyle = { fontFamily: SERIF };
const BAND = 10 / 64;

// stackOffset="sign" builds the colorbar outwards from zero
const bandRow: Record<string, number | string> = { k: 'c' };
jetColors.forEach((_, i) => {
  bandRow[`b${i}`] = i < 32 ? -BAND : BAND;
});
const bandOrder = [...jetColors.keys()].sort((a, b) => {
  const ra = a < 32 ? 31 - a : a;
  const rb = b < 32 ? 31 - b : b;
  return ra - rb;
});

const tickText = (anchor: string, dy: number) => (p: any) => (
  <text x={p.x} y={p.y} dy={dy} textAnchor={anchor} style={serifStyle} fontSize={66} fill={TEXT}>
    {p.payload.value}
  </text>
);

const axisLine = { stroke: TEXT, strokeWidth: 6 };
const tickLine = { stroke: TEXT, strokeWidth: 5 };
const gridLine = { stroke: '#262626', strokeOpacity: 0.18, strokeWidth: 6 };

export default function App() {
  return (
    <div style={{ position: 'absolute', left: 0, top: 0, width: 2395, height: 1980, background: '#fff' }}>
      <div style={{ position: 'absolute', left: 0, top: 0 }}>
        <ScatterChart width={2395} height={1980} margin={{ top: 125, right: 518, bottom: 0, left: 0 }}>
          <XAxis dataKey="x" type="number" domain={[-4, 4]} height={210} allowDataOverflow axisLine={false} tickLine={false} tick={false} />
          <YAxis dataKey="y" type="number" domain={[-1, 2]} width={238} allowDataOverflow axisLine={false} tickLine={false} tick={false} />
          <Scatter
            data={closed(plotCorners)}
            shape={noDot}
            line={{ fill: GREEN, stroke: GREEN, strokeWidth: 1 }}
            isAnimationActive={false}
          />
          {regions.map((r, i) => (
            <Scatter
              key={i}
              data={closed(r.pts)}
              shape={noDot}
              line={{ fill: r.fill, stroke: '#000', strokeWidth: 4, strokeLinejoin: 'round' }}
              isAnimationActive={false}
            />
          ))}
          {specks.map((s, i) => (
            <Scatter
              key={`s${i}`}
              data={speckRows(s)}
              shape={noDot}
              line={{ fill: '#000', stroke: '#000', strokeWidth: 2 }}
              isAnimationActive={false}
            />
          ))}
          <Scatter
            data={closed(barOutline)}
            shape={noDot}
            line={{ fill: '#B3B3B3', stroke: '#000', strokeWidth: 6 }}
            isAnimationActive={false}
          />
        </ScatterChart>
      </div>
      {/* second transparent chart: grid, frame and labels have to sit above the contours */}
      <div style={{ position: 'absolute', left: 0, top: 0 }}>
        <ScatterChart width={2395} height={1980} margin={{ top: 0, right: 0, bottom: 0, left: 0 }}>
          <XAxis
            type="number"
            dataKey="x"
            domain={[-4, 4]}
            ticks={xTicks}
            interval={0}
            height={210}
            axisLine={axisLine}
            tickLine={tickLine}
            tickSize={-16}
            tickMargin={91}
            tick={tickText('middle', 0)}
          />
          <XAxis
            xAxisId="t"
            type="number"
            dataKey="x"
            orientation="top"
            domain={[-4, 4]}
            ticks={xTicks}
            interval={0}
            height={125}
            axisLine={axisLine}
            tickLine={tickLine}
            tickSize={-16}
            tick={false}
          />
          <YAxis
            type="number"
            dataKey="y"
            domain={[-1, 2]}
            ticks={yTicks}
            interval={0}
            width={238}
            axisLine={axisLine}
            tickLine={tickLine}
            tickSize={-16}
            tickMargin={34}
            tick={tickText('end', 23)}
          />
          <YAxis
            yAxisId="r"
            type="number"
            dataKey="y"
            orientation="right"
            domain={[-1, 2]}
            ticks={yTicks}
            interval={0}
            width={518}
            axisLine={axisLine}
            tickLine={tickLine}
            tickSize={-16}
            tick={false}
          />
          <Scatter data={closed(plotCorners)} shape={noDot} isAnimationActive={false} />
          <Scatter xAxisId="t" yAxisId="r" data={closed(plotCorners)} shape={noDot} isAnimationActive={false} />
          {xTicks.slice(1, -1).map((v) => (
            <ReferenceLine key={`gx${v}`} x={v} {...gridLine} />
          ))}
          {yTicks.slice(1, -1).map((v) => (
            <ReferenceLine key={`gy${v}`} y={v} {...gridLine} />
          ))}
          <text x={995} y={1927} style={serifStyle} fontSize={72} fontStyle="italic" fill={TEXT}>
            x/b
            <tspan dx={5} dy={35} fontSize={62}>ss</tspan>
          </text>
          <text transform="translate(62,1002) rotate(-90)" style={serifStyle} fontSize={72} fontStyle="italic" fill={TEXT}>
            z/z
            <tspan dx={5} dy={35} fontSize={62}>ss</tspan>
          </text>
        </ScatterChart>
      </div>
      <div style={{ position: 'absolute', left: 1900, top: 0 }}>
        <BarChart
          width={495}
          height={1980}
          data={[bandRow]}
          stackOffset="sign"
          barCategoryGap={0}
          margin={{ top: 0, right: 0, bottom: 0, left: 0 }}
        >
          <XAxis dataKey="k" height={210} axisLine={axisLine} tickLine={false} tick={false} />
          <XAxis xAxisId="t" dataKey="k" orientation="top" height={125} axisLine={axisLine} tickLine={false} tick={false} />
          <YAxis yAxisId="l" orientation="left" width={61} domain={[-5, 5]} axisLine={axisLine} tickLine={false} tick={false} />
          <YAxis
            type="number"
            orientation="right"
            domain={[-5, 5]}
            ticks={barTicks}
            interval={0}
            width={302}
            axisLine={axisLine}
            tickLine={tickLine}
            tickSize={-17}
            tickMargin={49}
            tick={tickText('start', 23)}
          />
          {bandOrder.map((i) => (
            <Bar
              key={i}
              dataKey={`b${i}`}
              stackId="cb"
              fill={jetColors[i]}
              stroke={jetColors[i]}
              strokeWidth={1}
              isAnimationActive={false}
            />
          ))}
          <text x={200} y={85} style={serifStyle} fontSize={66} fill={TEXT}>
            ×10
            <tspan dx={4} dy={-33} fontSize={52}>-3</tspan>
          </text>
          <text transform="translate(448,1146) rotate(-90)" style={serifStyle} fontSize={68} fill={TEXT}>
            <tspan style={{ textDecoration: 'overline' }}>
              ρ′<tspan fontStyle="italic">v</tspan>′
            </tspan>
            /[(ρ<tspan dy={14} fontSize={40}>0</tspan>
            <tspan dy={-14}>-ρ</tspan>
            <tspan dy={14} fontSize={40}>a</tspan>
            <tspan dy={-14}>)</tspan>
            <tspan fontStyle="italic">w</tspan>
            <tspan dy={14} fontSize={40}>0</tspan>
            <tspan dy={-14}>]</tspan>
          </text>
        </BarChart>
      </div>
    </div>
  );
}
